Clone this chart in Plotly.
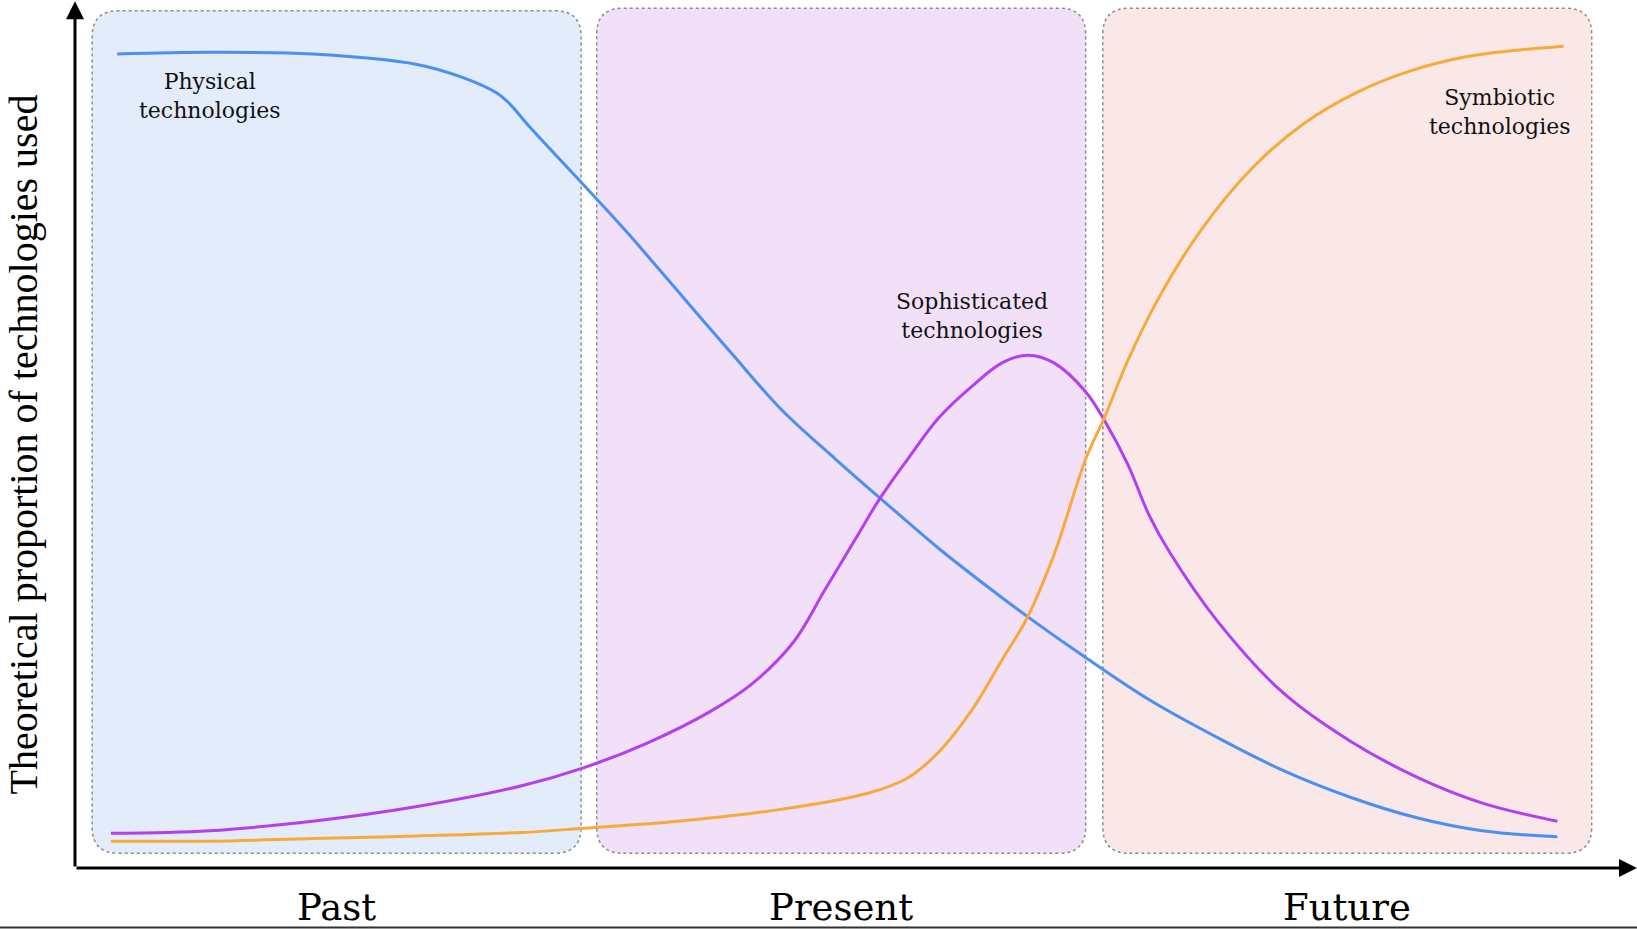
import plotly.graph_objects as go

# curve values (time 0-100, proportion 0-100)
physical_x = [2.7, 8.6, 15.2, 21.9, 24.8, 27.0, 27.8, 29.1, 32.3, 35.3, 38.6, 42.0, 45.3, 48.7,
              52.0, 55.3, 58.7, 61.0, 64.7, 68.8, 73.1, 77.3, 81.6, 85.9, 90.1, 94.9]
physical_y = [94.0, 94.2, 94.0, 92.8, 91.3, 89.5, 88.3, 85.6, 79.4, 73.5, 66.6, 59.5, 52.8, 47.2,
              42.0, 36.9, 32.1, 29.0, 24.3, 19.4, 15.1, 11.3, 8.2, 5.8, 4.3, 3.6]

sophisticated_x = [2.3, 8.6, 15.2, 21.9, 28.6, 32.6, 36.6, 40.6, 43.3, 46.0, 48.0, 50.0, 51.5, 53.3,
                   55.3, 57.4, 59.4, 61.0, 62.7, 64.7, 66.0, 67.4, 68.8, 70.1, 73.1, 77.3, 81.6,
                   85.9, 90.1, 94.9]
sophisticated_y = [4.0, 4.3, 5.4, 7.1, 9.5, 11.6, 14.4, 18.0, 21.2, 26.1, 32.1, 38.1, 42.6, 47.2,
                   52.0, 55.6, 58.4, 59.2, 58.3, 55.0, 51.4, 46.6, 40.6, 36.4, 28.6, 20.3, 14.7,
                   10.5, 7.5, 5.4]

symbiotic_x = [2.3, 8.6, 15.2, 21.9, 28.6, 32.6, 38.6, 45.3, 50.7, 53.3, 55.3, 57.4, 59.4, 60.9,
               62.7, 64.7, 65.9, 67.4, 69.4, 72.1, 75.4, 78.7, 82.1, 85.4, 88.8, 92.1, 95.3]
symbiotic_y = [3.1, 3.1, 3.4, 3.7, 4.1, 4.6, 5.4, 6.8, 8.6, 10.4, 13.4, 18.2, 24.2, 28.7,
               36.3, 47.2, 52.0, 58.6, 65.9, 73.7, 80.9, 86.0, 89.6, 92.0, 93.6, 94.4, 94.9]

eras = ["Past", "Present", "Future"]
era_start = [1.1, 33.4, 65.8]
era_end = [32.4, 64.7, 97.1]
era_top = [99.0, 99.3, 99.3]
era_bottom = [1.7, 1.7, 1.7]
era_fill = ["#e2ecfa", "#f2e0f8", "#f9e8e7"]

series_names = ["Physical<br>technologies", "Sophisticated<br>technologies", "Symbiotic<br>technologies"]
series_label_x = [8.6, 57.4, 91.2]
series_label_y = [89.1, 63.7, 87.3]

colors = ["#4a8ff2", "#b43ff0", "#f7aa3a"]

y_title = "Theoretical proportion of technologies used"


def rounded_box(x0, x1, y0, y1, rx=1.7, ry=3.0):
    return (f"M {x0+rx},{y0} L {x1-rx},{y0} Q {x1},{y0} {x1},{y0+ry} "
            f"L {x1},{y1-ry} Q {x1},{y1} {x1-rx},{y1} "
            f"L {x0+rx},{y1} Q {x0},{y1} {x0},{y1-ry} "
            f"L {x0},{y0+ry} Q {x0},{y0} {x0+rx},{y0} Z")


fig = go.Figure()

for i in range(3):
    fig.add_shape(type="path", xref="x", yref="y", layer="below",
                  path=rounded_box(era_start[i], era_end[i], era_bottom[i], era_top[i]),
                  fillcolor=era_fill[i],
                  line=dict(color="#8c8c8c", width=1.5, dash="dot"))

for xs, ys, c in [(physical_x, physical_y, colors[0]),
                  (sophisticated_x, sophisticated_y, colors[1]),
                  (symbiotic_x, symbiotic_y, colors[2])]:
    fig.add_trace(go.Scatter(x=xs, y=ys, mode="lines",
                             line=dict(color=c, width=3, shape="spline", smoothing=1.0),
                             hoverinfo="skip", showlegend=False))

# series labels
for name, lx, ly in zip(series_names, series_label_x, series_label_y):
    fig.add_annotation(x=lx, y=ly, text=name, showarrow=False,
                       font=dict(family="DejaVu Serif", size=22, color="#111111"))

# era labels under the axis
for name, s, e in zip(eras, era_start, era_end):
    fig.add_annotation(x=(s + e) / 2, y=0, yref="y", text=name, showarrow=False,
                       yanchor="middle", yshift=-39,
                       font=dict(family="DejaVu Serif", size=37, color="black"))

# axis arrows
fig.add_annotation(x=100, y=0, ax=0, ay=0, axref="x", ayref="y", text="",
                   showarrow=True, arrowhead=2, arrowsize=1.2, arrowwidth=3, arrowcolor="black")
fig.add_annotation(x=0, y=100.1, ax=0, ay=0, axref="x", ayref="y", text="",
                   showarrow=True, arrowhead=2, arrowsize=1.2, arrowwidth=3, arrowcolor="black")

# y title
fig.add_annotation(xref="paper", yref="paper", x=-0.0333, y=0.488, text=y_title,
                   textangle=-90, showarrow=False, xanchor="center", yanchor="middle",
                   font=dict(family="Liberation Serif", size=40, color="black"))

# bottom border line of the image
fig.add_shape(type="line", xref="paper", yref="paper", x0=-0.05, x1=1, y0=-0.0685, y1=-0.0685,
              line=dict(color="#333333", width=2))

fig.update_xaxes(range=[0, 100], visible=False)
fig.update_yaxes(range=[0, 100.24], visible=False)
fig.update_layout(width=1637, height=929,
                  margin=dict(l=75, r=0, t=0, b=61),
                  plot_bgcolor="white", paper_bgcolor="white")

fig.write_html("out.html", config={"displayModeBar": False},
               post_script="document.body.style.margin='0';")
